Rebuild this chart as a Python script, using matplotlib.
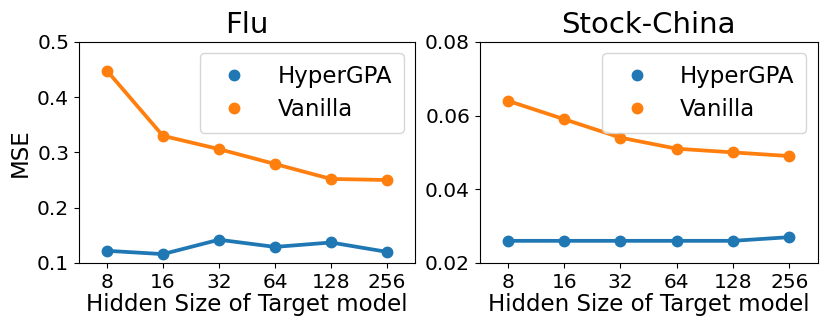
import matplotlib
matplotlib.use("Agg")
import matplotlib.pyplot as plt
from matplotlib.lines import Line2D

sizes = ['8', '16', '32', '64', '128', '256']
flu_hyper = [0.122, 0.116, 0.142, 0.129, 0.137, 0.120]
flu_vanilla = [0.448, 0.330, 0.306, 0.279, 0.252, 0.250]
stock_hyper = [0.026, 0.026, 0.026, 0.026, 0.026, 0.027]
stock_vanilla = [0.064, 0.059, 0.054, 0.051, 0.050, 0.049]

blue = '#1f77b4'
orange = '#ff7f0e'

fig = plt.figure(figsize=(8.3, 3.32), dpi=100)
ax1 = fig.add_axes([0.095, 0.208, 0.405, 0.666])
ax2 = fig.add_axes([0.578, 0.208, 0.407, 0.666])

def panel(ax, hyper, vanilla, title, ylim, yticks, yfmt):
    x = range(len(sizes))
    ax.plot(x, hyper, color=blue, lw=2.7, marker='o', ms=7.5)
    ax.plot(x, vanilla, color=orange, lw=2.7, marker='o', ms=7.5)
    ax.set_xlim(-0.5, len(sizes) - 0.5)
    ax.set_ylim(*ylim)
    ax.set_xticks(list(x))
    ax.set_xticklabels(sizes)
    ax.set_yticks(yticks)
    ax.set_yticklabels([yfmt.format(v) for v in yticks])
    ax.tick_params(labelsize=14.5)
    ax.set_title(title, fontsize=21)
    ax.set_xlabel('Hidden Size of Target model', fontsize=16.5, labelpad=1)
    handles = [Line2D([], [], color=blue, marker='o', ls='none', ms=7.5),
               Line2D([], [], color=orange, marker='o', ls='none', ms=7.5)]
    ax.legend(handles, ['HyperGPA', 'Vanilla'], loc='upper right', fontsize=16.5,
              handletextpad=0.9, borderpad=0.5, labelspacing=0.45)

panel(ax1, flu_hyper, flu_vanilla, 'Flu', (0.1, 0.5),
      [0.1, 0.2, 0.3, 0.4, 0.5], '{:.1f}')
panel(ax2, stock_hyper, stock_vanilla, 'Stock-China', (0.02, 0.08),
      [0.02, 0.04, 0.06, 0.08], '{:.2f}')
ax1.set_ylabel('MSE', fontsize=16.5)

fig.savefig('out.png', dpi=100)
